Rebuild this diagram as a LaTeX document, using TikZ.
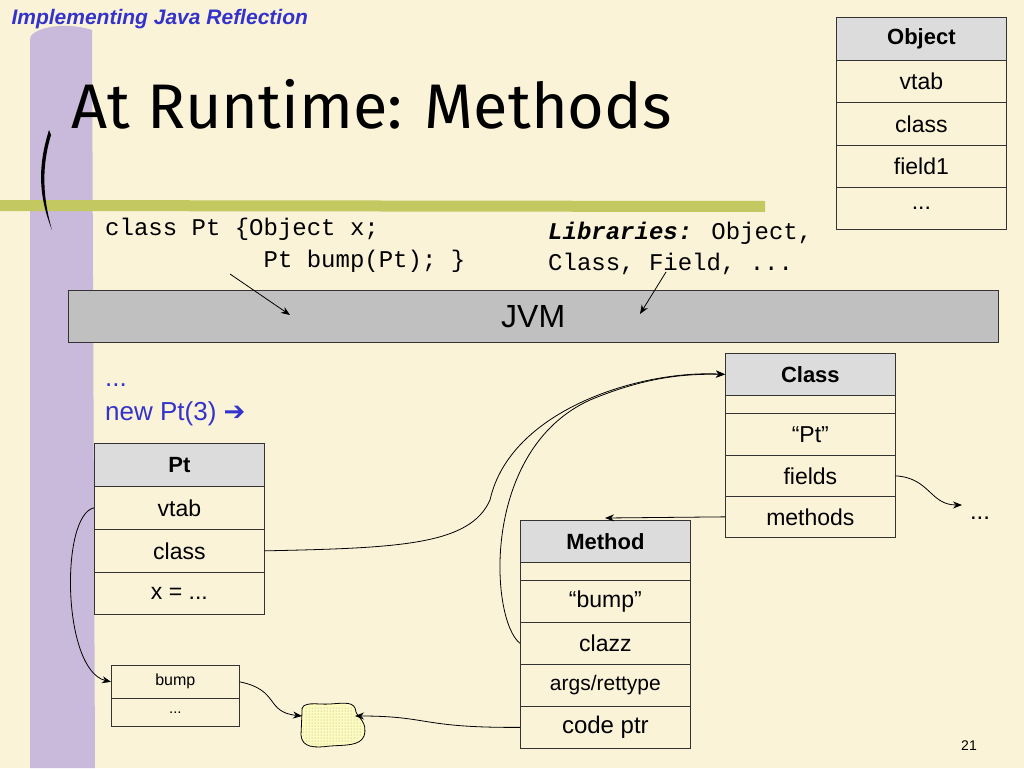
\documentclass[tikz,border=0pt]{standalone}
\usepackage{fontspec}
\setmainfont{Liberation Sans}
\newfontfamily\titlefont{Fira Sans}
\newfontfamily\monofont{Liberation Mono}
\newfontfamily\symfont{DejaVu Sans}
\usetikzlibrary{arrows.meta,patterns}
\definecolor{bg}{HTML}{FAF3D8}
\definecolor{hdr}{HTML}{DCDCDC}
\definecolor{jvm}{HTML}{C0C0C0}
\definecolor{lilac}{HTML}{C9B9DA}
\definecolor{olive}{HTML}{C3C860}
\definecolor{blu}{HTML}{3333CC}
\begin{document}
\begin{tikzpicture}[x=1pt,y=-1pt,
  cell/.style={draw=black!80,line width=0.7pt,minimum width=170pt,inner sep=0pt,font=\fontsize{23}{23}\selectfont,anchor=north west},
  head/.style={cell,fill=hdr,font=\bfseries\fontsize{22}{22}\selectfont},
  arr/.style={-{Stealth[length=9pt,width=7pt]},line width=0.8pt},
  con/.style={line width=0.8pt}]
\useasboundingbox (0,0) rectangle (1024,768);
\fill[bg] (0,0) rectangle (1024,768);
\fill[lilac] (30,40) .. controls (28,30) and (60,20) .. (92,30) -- (95,768) -- (30,768) -- cycle;
\fill[olive] (0,200) -- (765,201) -- (765,212) -- (0,211) -- cycle;
\fill[black] (49,130) .. controls (38,165) and (38,195) .. (52,230) .. controls (42,195) and (42,165) .. (51,135) -- cycle;
\node[anchor=west,font=\bfseries\itshape\fontsize{21}{21}\selectfont,text=blu] (hd) at (8,19) {Implementing Java Reflection};
\node[anchor=west,font=\titlefont\fontsize{63}{63}\selectfont] (ttl) at (68,104) {At Runtime: Methods};
% Object
\node[head,minimum height=43pt] (oh) at (836,17) {Object};
\node[cell,minimum height=42pt] (o1) at (836,60) {vtab};
\node[cell,minimum height=43pt] (o2) at (836,102) {class};
\node[cell,minimum height=42pt] (o3) at (836,145) {field1};
\node[cell,minimum height=42pt] (o4) at (836,187) {...};
% code text
\node[anchor=north west,font=\monofont\fontsize{24}{32}\selectfont,align=left,inner sep=0pt] (code) at (105,218) {class Pt \{Object x;\\\phantom{class Pt \{O}Pt bump(Pt); \}};
\node[anchor=north west,font=\monofont\fontsize{24}{31}\selectfont,align=left,inner sep=0pt] (lib) at (548,222) {\textbf{\textit{Libraries:}} Object,\\Class, Field, ...};
% JVM
\node[draw=black!80,fill=jvm,minimum width=930pt,minimum height=52pt,anchor=north west,inner sep=0pt,font=\fontsize{32}{32}\selectfont] (jvm) at (68,290) {JVM};
\coordinate (c1) at (230,274); \coordinate (c1e) at (290,315);
\coordinate (c2) at (666,272); \coordinate (c2e) at (640,314);
\draw[arr] (c1) -- (c1e);
\draw[arr] (c2) -- (c2e);
% new
\node[anchor=north west,text=blu,font=\fontsize{26}{34}\selectfont,align=left,inner sep=0pt] (nw) at (105,384) {...\\new Pt(3) {\symfont ➔}};
% Class
\node[head,minimum height=42pt] (ch) at (725,353) {Class};
\node[cell,minimum height=18pt] (ce) at (725,395) {};
\node[cell,minimum height=42pt] (cpt) at (725,413) {“Pt”};
\node[cell,minimum height=41pt] (cf) at (725,455) {fields};
\node[cell,minimum height=41pt] (cm) at (725,496) {methods};
\node[font=\fontsize{24}{24}\selectfont] (dots) at (980,518) {...};
% Method
\node[head,minimum height=42pt] (mh) at (520,520) {Method};
\node[cell,minimum height=18pt] (me) at (520,562) {};
\node[cell,minimum height=42pt] (mb) at (520,580) {“bump”};
\node[cell,minimum height=42pt] (mc) at (520,622) {clazz};
\node[cell,minimum height=42pt,font=\fontsize{21}{21}\selectfont] (ma) at (520,664) {args/rettype};
\node[cell,minimum height=42pt,font=\fontsize{24}{24}\selectfont] (mp) at (520,706) {code ptr};
% Pt
\node[head,minimum height=43pt] (ph) at (94,443) {Pt};
\node[cell,minimum height=43pt] (pv) at (94,486) {vtab};
\node[cell,minimum height=43pt] (pc) at (94,529) {class};
\node[cell,minimum height=42pt] (px) at (94,572) {x = ...};
% vtable
\node[cell,minimum width=128pt,minimum height=33pt,font=\fontsize{16}{16}\selectfont] (vb) at (111,665) {bump};
\node[cell,minimum width=128pt,minimum height=28pt,font=\fontsize{15}{15}\selectfont] (vd) at (111,698) {...};
% blob
\node[minimum width=62pt,minimum height=45pt,inner sep=0pt] (blob) at (331,724) {};
\draw[line width=0.8pt,fill=yellow!25,preaction={fill=bg}]
 (302,712) .. controls (300,700) and (318,705) .. (330,704) .. controls (345,703) and (355,701) .. (356,712)
 .. controls (358,718) and (368,722) .. (364,736) .. controls (360,746) and (345,745) .. (330,746)
 .. controls (315,748) and (302,748) .. (301,735) -- cycle;
\fill[pattern=dots,pattern color=black!40] (304,712) .. controls (302,703) and (320,707) .. (330,706) .. controls (345,705) and (353,703) .. (354,713) .. controls (356,720) and (366,722) .. (362,735) .. controls (358,744) and (345,743) .. (330,744) .. controls (316,746) and (304,746) .. (303,734) -- cycle;
% connectors
\draw[arr] (pc.east) .. controls (400,548) and (470,545) .. (490,500) .. controls (510,410) and (640,370) .. (ch.west);
\draw[arr] (mc.west) .. controls (490,620) and (480,450) .. (590,400) .. controls (650,375) and (690,374) .. (ch.west);
\draw[arr] (cm.west) -- (605,518);
\draw[arr] (cf.east) .. controls (930,478) and (930,505) .. (962,505);
\draw[arr] (pv.west) .. controls (60,515) and (62,670) .. (vb.west);
\draw[arr] (vb.east) .. controls (280,690) and (265,712) .. (302,716);
\draw[arr] (mp.west) .. controls (420,728) and (430,716) .. (355,716);
\node[font=\fontsize{14}{14}\selectfont] (pg) at (969,746) {21};
\end{tikzpicture}
\end{document}
